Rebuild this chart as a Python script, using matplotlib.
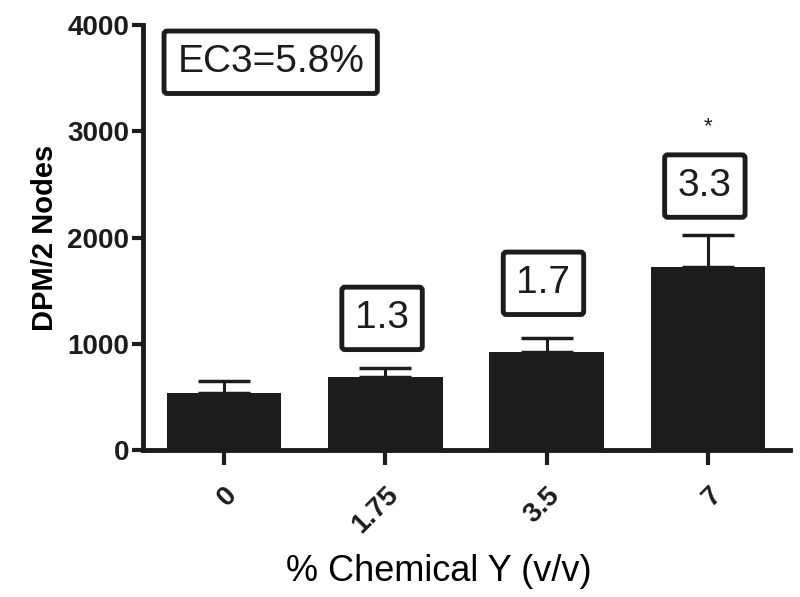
import numpy as np
import matplotlib.pyplot as plt

plt.rcParams['font.family'] = ['Liberation Sans', 'DejaVu Sans']

# data
doses = ["0", "1.75", "3.5", "7"]
dpm_mean = [536, 687, 927, 1722]
dpm_sem = [115, 85, 127, 302]
si_labels = ["", "1.3", "1.7", "3.3"]
si_label_y = [0, 1240, 1570, 2485]
star_y = 3040
ec3_text = "EC3=5.8%"

fig = plt.figure(figsize=(8.0, 5.97), dpi=100)
ax = fig.add_axes([0.179, 0.246, 0.809, 0.712])

x = np.arange(len(doses))
ax.bar(x, dpm_mean, width=0.71, color="#1c1c1c", zorder=2)
ax.errorbar(x, dpm_mean, yerr=[np.zeros(len(x)), dpm_sem], fmt="none",
            ecolor="#1c1c1c", elinewidth=2.2, capsize=19, capthick=2.5, zorder=1)

box = dict(boxstyle="round,pad=0.34,rounding_size=0.08", fc="white",
           ec="#1c1c1c", lw=3.5)
for i, lab in enumerate(si_labels):
    if lab:
        ax.text(x[i] - 0.02, si_label_y[i], lab, ha="center", va="center",
                fontsize=28, color="#1c1c1c", bbox=box)
ax.text(x[3], star_y, "*", ha="center", va="center", fontsize=16, color="#1c1c1c")
ax.text(0.29, 3650, ec3_text, ha="center", va="center", fontsize=28,
        color="#1c1c1c", bbox=box)

ax.set_xlim(-0.5, 3.51)
ax.set_ylim(0, 4000)
ax.set_yticks([0, 1000, 2000, 3000, 4000])
ax.set_xticks(x)
ax.set_xticklabels(doses, rotation=45, ha="right", rotation_mode="anchor")

for s in ["top", "right"]:
    ax.spines[s].set_visible(False)
for s in ["left", "bottom"]:
    ax.spines[s].set_linewidth(3.5)
    ax.spines[s].set_color("#1c1c1c")
ax.tick_params(axis="y", length=8, width=3, labelsize=20, pad=2, colors="#1c1c1c")
ax.tick_params(axis="x", length=11, width=3, labelsize=20, pad=12, colors="#1c1c1c")
for t in ax.get_xticklabels() + ax.get_yticklabels():
    t.set_fontweight("bold")

ax.set_ylabel("DPM/2 Nodes", fontsize=21, fontweight="bold", labelpad=6)
ax.set_xlabel("% Chemical Y (v/v)", fontsize=26)
ax.xaxis.set_label_coords(0.457, -0.245)

fig.savefig("out.png", dpi=100)
